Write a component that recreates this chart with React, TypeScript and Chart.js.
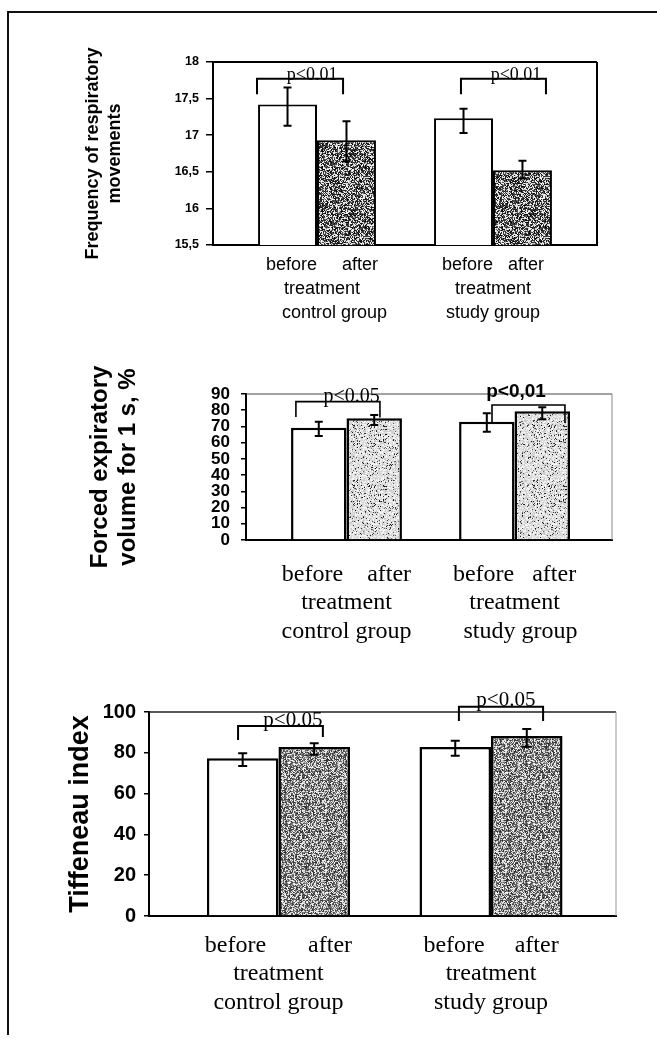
import React, { useEffect, useRef } from "react";
import { Chart, registerables } from "chart.js";

Chart.register(...registerables);

// ---------- DATA ----------
const groupIndex = [0, 1]; // control group, study group

// Chart 1: Frequency of respiratory movements
const respBefore = [17.42, 17.23];
const respAfter = [16.93, 16.52];
const respBeforeErr = [[17.13, 17.65], [17.03, 17.36]];
const respAfterErr = [[16.64, 17.19], [16.41, 16.65]];
const respTicks = [15.5, 16, 16.5, 17, 17.5, 18];
const respTickLabels = ["15,5", "16", "16,5", "17", "17,5", "18"];

// Chart 2: Forced expiratory volume for 1 s, %
const fevBefore = [69.2, 72.9];
const fevAfter = [75.0, 79.3];
const fevBeforeErr = [[64.1, 72.9], [66.8, 78.1]];
const fevAfterErr = [[70.9, 77.1], [74.4, 81.8]];
const fevTicks = [0, 10, 20, 30, 40, 50, 60, 70, 80, 90];
const fevTickLabels = ["0", "10", "20", "30", "40", "50", "60", "70", "80", "90"];

// Chart 3: Tiffeneau index
const tifBefore = [77.3, 82.8];
const tifAfter = [82.8, 88.2];
const tifBeforeErr = [[73.5, 79.8], [78.6, 85.9]];
const tifAfterErr = [[79.0, 84.7], [83.0, 91.7]];
const tifTicks = [0, 20, 40, 60, 80, 100];
const tifTickLabels = ["0", "20", "40", "60", "80", "100"];

const sp = (n: number) => "\u00a0".repeat(n);

const respXLabels = [
  [sp(2) + "before" + sp(5) + "after", sp(2) + "treatment", sp(7) + "control group"],
  ["before" + sp(3) + "after", "treatment", "study group"],
];
const fevXLabels = [
  ["before" + sp(4) + "after", "treatment", "control group"],
  ["before" + sp(3) + "after", "treatment", sp(2) + "study group"],
];
const tifXLabels = [
  ["before" + sp(7) + "after", "treatment", "control group"],
  ["before" + sp(5) + "after", "treatment", "study group"],
];

// significance brackets (x in group-axis units, y in value units)
const respBrackets = [
  { label: "p<0.01", from: -0.341, to: 0.148, top: 17.77, legLeft: 17.56, legRight: 17.56, labelX: -0.028, labelY: 17.75 },
  { label: "p<0.01", from: 0.818, to: 1.301, top: 17.77, legLeft: 17.56, legRight: 17.56, labelX: 1.131, labelY: 17.75 },
];
const fevBrackets = [
  { label: "p<0.05", from: -0.301, to: 0.199, top: 85.3, legLeft: 75.8, legRight: 75.5, labelX: 0.03, labelY: 85.0 },
  { label: "p<0,01", from: 0.866, to: 1.3, top: 83.2, legLeft: 72.1, legRight: 72.1, labelX: 1.009, labelY: 88.2 },
];
const tifBrackets = [
  { label: "p<0.05", from: -0.19, to: 0.209, top: 93.1, legLeft: 86.3, legRight: 87.7, labelX: 0.068, labelY: 93.0 },
  { label: "p<0.05", from: 0.849, to: 1.245, top: 102.6, legLeft: 95.6, legRight: 95.6, labelX: 1.07, labelY: 103.0 },
];

// ---------- STYLE / LAYOUT ----------
const SANS = "'Liberation Sans', Arial, sans-serif";
const SERIF = "'Liberation Serif', 'Times New Roman', serif";

type Bracket = typeof respBrackets[number];
type Texture = { dark: number; seed: number; lo: number; hi: number; grain: number };

type Spec = {
  top: number;
  height: number;
  padding: { left: number; right: number; top: number; bottom: number };
  yWidth: number;
  xHeight: number;
  xMin: number;
  xMax: number;
  catPct: number;
  yMin: number;
  yMax: number;
  yTicks: number[];
  yTickLabels: string[];
  yTickFont: any;
  yTickPadding: number;
  yTickLength: number;
  title: string[];
  titleFont: any;
  titlePad: number;
  xLabels: string[][];
  xFont: any;
  xPadding: number;
  before: number[];
  after: number[];
  beforeErr: number[][];
  afterErr: number[][];
  texture: Texture;
  brackets: Bracket[];
  bracketFonts: string[];
  bracketWidth: number;
  frameTop: { color: string; width: number };
  frameRight: { color: string; width: number };
  barBorder: number;
  cap: number;
};

const specs: Spec[] = [
  {
    top: 0,
    height: 340,
    padding: { left: 70, right: 60, top: 62, bottom: 15 },
    yWidth: 143,
    xHeight: 80,
    xMin: -0.591,
    xMax: 1.591,
    catPct: 0.67,
    yMin: 15.5,
    yMax: 18,
    yTicks: respTicks,
    yTickLabels: respTickLabels,
    yTickFont: { family: SANS, size: 12.5, weight: "bold", lineHeight: 1 },
    yTickPadding: 7,
    yTickLength: 7,
    title: ["Frequency of respiratory", "movements"],
    titleFont: { family: SANS, size: 18, weight: "bold", lineHeight: 22 / 18 },
    titlePad: 12,
    xLabels: respXLabels,
    xFont: { family: SANS, size: 18, lineHeight: 24 / 18 },
    xPadding: 8,
    before: respBefore,
    after: respAfter,
    beforeErr: respBeforeErr,
    afterErr: respAfterErr,
    texture: { dark: 0.6, seed: 11, lo: 0, hi: 100, grain: 1 },
    brackets: respBrackets,
    bracketFonts: ["18px " + SERIF, "18px " + SERIF],
    bracketWidth: 2,
    frameTop: { color: "#000", width: 2 },
    frameRight: { color: "#000", width: 2 },
    barBorder: 2,
    cap: 8,
  },
  {
    top: 340,
    height: 320,
    padding: { left: 76, right: 45, top: 54, bottom: 10 },
    yWidth: 170,
    xHeight: 110,
    xMin: -0.598,
    xMax: 1.58,
    catPct: 0.66,
    yMin: 0,
    yMax: 90,
    yTicks: fevTicks,
    yTickLabels: fevTickLabels,
    yTickFont: { family: SANS, size: 17, weight: "bold", lineHeight: 1 },
    yTickPadding: 11,
    yTickLength: 5,
    title: ["Forced expiratory", "volume for 1 s, %"],
    titleFont: { family: SANS, size: 24, weight: "bold", lineHeight: 28 / 24 },
    titlePad: 10,
    xLabels: fevXLabels,
    xFont: { family: SERIF, size: 24, lineHeight: 28.5 / 24 },
    xPadding: 20,
    before: fevBefore,
    after: fevAfter,
    beforeErr: fevBeforeErr,
    afterErr: fevAfterErr,
    texture: { dark: 0.1, seed: 29, lo: 10, hi: 120, grain: 1 },
    brackets: fevBrackets,
    bracketFonts: ["20px " + SERIF, "bold 19px " + SANS],
    bracketWidth: 1.6,
    frameTop: { color: "#444", width: 1 },
    frameRight: { color: "#888", width: 1 },
    barBorder: 2.5,
    cap: 8,
  },
  {
    top: 660,
    height: 380,
    padding: { left: 55, right: 41, top: 52, bottom: 10 },
    yWidth: 94,
    xHeight: 114,
    xMin: -0.609,
    xMax: 1.588,
    catPct: 0.673,
    yMin: 0,
    yMax: 100,
    yTicks: tifTicks,
    yTickLabels: tifTickLabels,
    yTickFont: { family: SANS, size: 20, weight: "bold", lineHeight: 1 },
    yTickPadding: 8,
    yTickLength: 5,
    title: ["Tiffeneau index"],
    titleFont: { family: SANS, size: 27, weight: "bold", lineHeight: 1.2 },
    titlePad: 9,
    xLabels: tifXLabels,
    xFont: { family: SERIF, size: 24, lineHeight: 28.5 / 24 },
    xPadding: 15,
    before: tifBefore,
    after: tifAfter,
    beforeErr: tifBeforeErr,
    afterErr: tifAfterErr,
    texture: { dark: 0.58, seed: 53, lo: 40, hi: 140, grain: 1 },
    brackets: tifBrackets,
    bracketFonts: ["21px " + SERIF, "21px " + SERIF],
    bracketWidth: 2,
    frameTop: { color: "#222", width: 1.5 },
    frameRight: { color: "#999", width: 1 },
    barBorder: 2.5,
    cap: 9,
  },
];

// grainy fill resembling the scanned stipple of the "after" bars
function stipple(t: Texture): CanvasPattern | string {
  const cells = 60;
  const size = cells * t.grain;
  const c = document.createElement("canvas");
  c.width = size;
  c.height = size;
  const g = c.getContext("2d");
  if (!g) return "#999";
  let s = t.seed >>> 0;
  const next = () => {
    s = (Math.imul(s, 1664525) + 1013904223) >>> 0;
    return s / 4294967296;
  };
  for (let r = 0; r < cells; r++) {
    for (let q = 0; q < cells; q++) {
      const v = next() < t.dark ? t.lo + Math.floor(next() * (t.hi - t.lo)) : 195 + Math.floor(next() * 60);
      g.fillStyle = `rgb(${v},${v},${v})`;
      g.fillRect(q * t.grain, r * t.grain, t.grain, t.grain);
    }
  }
  return g.createPattern(c, "repeat") || "#999";
}

function makeOverlay(spec: Spec) {
  return {
    id: "overlay",
    afterDatasetsDraw(chart: any) {
      const { ctx, chartArea: a, scales } = chart;
      const x = scales.x;
      const y = scales.y;
      ctx.save();
      // plot frame: top and right
      ctx.strokeStyle = spec.frameTop.color;
      ctx.lineWidth = spec.frameTop.width;
      ctx.beginPath();
      ctx.moveTo(a.left, a.top);
      ctx.lineTo(a.right, a.top);
      ctx.stroke();
      ctx.strokeStyle = spec.frameRight.color;
      ctx.lineWidth = spec.frameRight.width;
      ctx.beginPath();
      ctx.moveTo(a.right, a.top);
      ctx.lineTo(a.right, a.bottom);
      ctx.stroke();

      // error bars
      ctx.strokeStyle = "#000";
      ctx.lineWidth = 2;
      [spec.beforeErr, spec.afterErr].forEach((errs, di) => {
        const meta = chart.getDatasetMeta(di);
        meta.data.forEach((bar: any, i: number) => {
          const lo = y.getPixelForValue(errs[i][0]);
          const hi = y.getPixelForValue(errs[i][1]);
          const px = bar.x;
          const h = spec.cap / 2;
          ctx.beginPath();
          ctx.moveTo(px, lo);
          ctx.lineTo(px, hi);
          ctx.moveTo(px - h, lo);
          ctx.lineTo(px + h, lo);
          ctx.moveTo(px - h, hi);
          ctx.lineTo(px + h, hi);
          ctx.stroke();
        });
      });

      // significance brackets
      spec.brackets.forEach((b, i) => {
        const x1 = x.getPixelForValue(b.from);
        const x2 = x.getPixelForValue(b.to);
        const yt = y.getPixelForValue(b.top);
        ctx.lineWidth = spec.bracketWidth;
        ctx.strokeStyle = "#000";
        ctx.beginPath();
        ctx.moveTo(x1, y.getPixelForValue(b.legLeft));
        ctx.lineTo(x1, yt);
        ctx.lineTo(x2, yt);
        ctx.lineTo(x2, y.getPixelForValue(b.legRight));
        ctx.stroke();
        ctx.font = spec.bracketFonts[i];
        ctx.fillStyle = "#000";
        ctx.textAlign = "center";
        ctx.textBaseline = "alphabetic";
        ctx.fillText(b.label, x.getPixelForValue(b.labelX), y.getPixelForValue(b.labelY));
      });
      ctx.restore();
    },
  };
}

function Panel({ spec }: { spec: Spec }) {
  const ref = useRef<HTMLCanvasElement | null>(null);
  useEffect(() => {
    if (!ref.current) return;
    const texture = stipple(spec.texture);
    const chart = new Chart(ref.current, {
      type: "bar",
      data: {
        datasets: [
          {
            label: "before",
            data: groupIndex.map((g, i) => ({ x: g, y: spec.before[i] })),
            backgroundColor: "#ffffff",
            borderColor: "#000000",
            borderWidth: spec.barBorder,
          },
          {
            label: "after",
            data: groupIndex.map((g, i) => ({ x: g, y: spec.after[i] })),
            backgroundColor: texture as any,
            borderColor: "#000000",
            borderWidth: spec.barBorder,
          },
        ],
      },
      options: {
        responsive: false,
        animation: false,
        layout: { padding: spec.padding },
        datasets: { bar: { barPercentage: 1, categoryPercentage: spec.catPct } },
        plugins: { legend: { display: false }, tooltip: { enabled: false } },
        scales: {
          x: {
            type: "linear",
            min: spec.xMin,
            max: spec.xMax,
            offset: false,
            grid: { display: false, offset: false, drawTicks: false, tickLength: 0 },
            border: { display: true, color: "#000", width: 2 },
            afterBuildTicks: (s: any) => {
              s.ticks = groupIndex.map((v) => ({ value: v }));
            },
            afterFit: (s: any) => {
              s.height = spec.xHeight;
            },
            ticks: {
              autoSkip: false,
              maxRotation: 0,
              minRotation: 0,
              padding: spec.xPadding,
              color: "#000",
              font: spec.xFont,
              callback: (v: any) => spec.xLabels[Math.round(Number(v))],
            },
          },
          y: {
            type: "linear",
            min: spec.yMin,
            max: spec.yMax,
            afterBuildTicks: (s: any) => {
              s.ticks = spec.yTicks.map((v) => ({ value: v }));
            },
            afterFit: (s: any) => {
              s.width = spec.yWidth;
            },
            grid: {
              drawOnChartArea: false,
              drawTicks: true,
              tickLength: spec.yTickLength,
              color: "#000",
              lineWidth: 1.5,
            },
            border: { display: true, color: "#000", width: 2 },
            ticks: {
              autoSkip: false,
              padding: spec.yTickPadding,
              color: "#000",
              font: spec.yTickFont,
              callback: (_v: any, i: number) => spec.yTickLabels[i],
            },
            title: {
              display: true,
              text: spec.title,
              color: "#000",
              font: spec.titleFont,
              padding: { top: spec.titlePad, bottom: 0 },
            },
          },
        },
      } as any,
      plugins: [makeOverlay(spec)],
    });
    return () => chart.destroy();
  }, [spec]);
  return (
    <canvas
      ref={ref}
      width={657}
      height={spec.height}
      style={{ position: "absolute", left: 0, top: spec.top, width: 657, height: spec.height, display: "block" }}
    />
  );
}

export default function App() {
  return (
    <div style={{ position: "absolute", left: 0, top: 0, width: 657, height: 1040, background: "#fff", overflow: "hidden" }}>
      {specs.map((s, i) => (
        <Panel key={i} spec={s} />
      ))}
      <div
        style={{
          position: "absolute",
          left: 7,
          top: 11,
          width: 650,
          height: 1024,
          borderTop: "2px solid #111",
          borderLeft: "2px solid #111",
          boxSizing: "border-box",
          pointerEvents: "none",
        }}
      />
    </div>
  );
}
